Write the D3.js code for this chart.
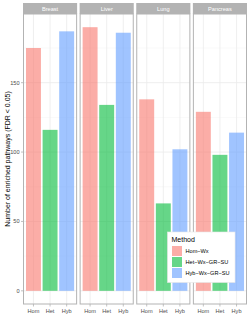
<!DOCTYPE html>
<html><head><meta charset="utf-8">
<script src="https://cdn.jsdelivr.net/npm/d3@7"></script>
<style>body{margin:0;background:#fff}svg{display:block;font-family:"Liberation Sans",Arial,sans-serif}</style>
</head><body><svg id="c" width="249" height="316"></svg>
<script>
const panels = ["Breast","Liver","Lung","Pancreas"];
const groups = ["Hom","Het","Hyb"];
const methods = ["Hom\u2212Wx","Het\u2212Wx\u2212GR\u2212SU","Hyb\u2212Wx\u2212GR\u2212SU"];
const homValues = [175,190,138,129];
const hetValues = [116,134,63,98];
const hybValues = [187,186,102,114];
const yTicks = [0,50,100,150];
const colors = ["#F8766D","#00BA38","#619CFF"];

(function(){
const svg = d3.select("#c");
const pLeft=23.5, pRight=246.5, pTop=14, pBottom=304, stripH=11, stripTop=3, gap=3.5;
const pw=(pRight-pLeft-gap*3)/4;
const y=d3.scaleLinear().domain([-9.5,199.5]).range([pBottom,pTop]);
const series=[homValues,hetValues,hybValues];
const grid="#ebebeb", border="#b3b3b3";

panels.forEach((p,i)=>{
  const x0=pLeft+i*(pw+gap);
  const x=d3.scalePoint().domain(groups).range([x0+pw*0.6/3.2,x0+pw*2.6/3.2]);
  const unit=pw/3.2;
  const g=svg.append("g");
  g.append("rect").attr("x",x0).attr("y",pTop).attr("width",pw).attr("height",pBottom-pTop).attr("fill","#fff");
  [25,75,125,175].forEach(v=>g.append("line").attr("x1",x0).attr("x2",x0+pw).attr("y1",y(v)).attr("y2",y(v)).attr("stroke","#f3f3f3").attr("stroke-width",0.5));
  yTicks.forEach(v=>g.append("line").attr("x1",x0).attr("x2",x0+pw).attr("y1",y(v)).attr("y2",y(v)).attr("stroke",grid).attr("stroke-width",0.8));
  groups.forEach(gr=>g.append("line").attr("x1",x(gr)).attr("x2",x(gr)).attr("y1",pTop).attr("y2",pBottom).attr("stroke",grid).attr("stroke-width",0.8));
  groups.forEach((gr,k)=>{
    const v=series[k][i];
    g.append("rect").attr("x",x(gr)-unit*0.45).attr("width",unit*0.9)
     .attr("y",y(v)).attr("height",y(0)-y(v)).attr("fill",colors[k]).attr("fill-opacity",0.6);
  });
  g.append("rect").attr("x",x0).attr("y",pTop).attr("width",pw).attr("height",pBottom-pTop).attr("fill","none").attr("stroke",border).attr("stroke-width",1);
  g.append("rect").attr("x",x0-0.5).attr("y",stripTop).attr("width",pw+1).attr("height",stripH).attr("fill","#b3b3b3");
  g.append("text").attr("x",x0+pw/2).attr("y",stripTop+stripH/2+2).attr("text-anchor","middle").attr("font-size",5.6).attr("fill","#fff").text(p);
  groups.forEach(gr=>{
    g.append("line").attr("x1",x(gr)).attr("x2",x(gr)).attr("y1",pBottom).attr("y2",pBottom+2.5).attr("stroke",border).attr("stroke-width",0.8);
    g.append("text").attr("x",x(gr)).attr("y",pBottom+9).attr("text-anchor","middle").attr("font-size",5.6).attr("fill","#4d4d4d").text(gr);
  });
});
yTicks.forEach(v=>{
  svg.append("line").attr("x1",pLeft-2.5).attr("x2",pLeft).attr("y1",y(v)).attr("y2",y(v)).attr("stroke",border).attr("stroke-width",0.8);
  svg.append("text").attr("x",pLeft-4).attr("y",y(v)+2).attr("text-anchor","end").attr("font-size",5.6).attr("fill","#4d4d4d").text(v);
});
svg.append("text").attr("transform",`translate(9.5,${(pTop+pBottom)/2}) rotate(-90)`).attr("text-anchor","middle").attr("font-size",7).attr("fill","#000").text("Number of enriched pathways (FDR < 0.05)");
const lg=svg.append("g");
lg.append("rect").attr("x",167.5).attr("y",232).attr("width",67.5).attr("height",50.5).attr("fill","#fff").attr("stroke","#e6e6e6").attr("stroke-width",0.6);
lg.append("text").attr("x",171.5).attr("y",241.5).attr("font-size",7).attr("fill","#000").text("Method");
methods.forEach((m,k)=>{
  const ky=245.5+k*11;
  lg.append("rect").attr("x",171.5).attr("y",ky).attr("width",11).attr("height",11).attr("fill","#fff");
  lg.append("rect").attr("x",172).attr("y",ky+0.5).attr("width",10).attr("height",10).attr("fill",colors[k]).attr("fill-opacity",0.6);
  lg.append("text").attr("x",185.5).attr("y",ky+7.5).attr("font-size",5.6).attr("fill","#000").text(m);
});
})();
</script></body></html>
